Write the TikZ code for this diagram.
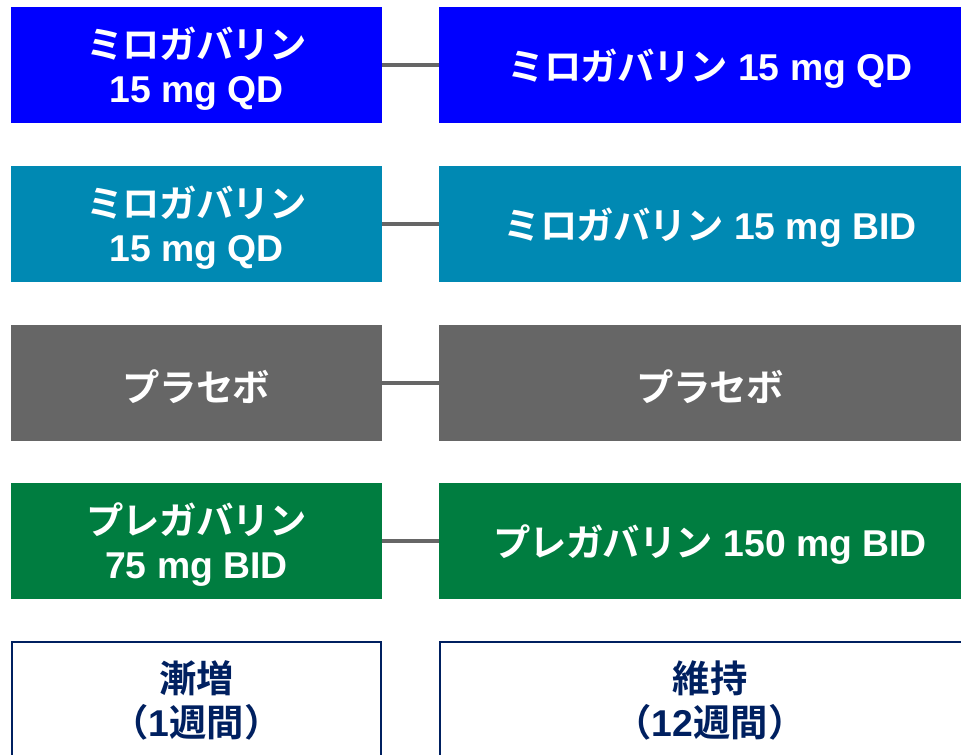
\documentclass[tikz,border=0pt]{standalone}
\usepackage{fontspec}
\setmainfont{Liberation Sans}
\newfontfamily\jp{Noto Sans CJK JP}[BoldFont=* Bold, LetterSpace=-2]
\newfontfamily\jpk{Noto Sans CJK JP}[BoldFont=* Bold]
\definecolor{cblue}{HTML}{0000FF}
\definecolor{cteal}{HTML}{0089B3}
\definecolor{cgray}{HTML}{666666}
\definecolor{cgreen}{HTML}{007D40}
\definecolor{cnavy}{HTML}{002060}
\tikzset{
  box/.style={rectangle, inner sep=0pt, minimum height=87pt},
  lbox/.style={box, minimum width=278.25pt},
  rbox/.style={box, minimum width=406.5pt},
  txt/.style={inner sep=0pt, align=center, text=white,
    font=\bfseries\fontsize{28pt}{33pt}\selectfont},
  pbox/.style={rectangle, inner sep=0pt, align=center, text=cnavy, draw=cnavy, line width=2pt,
    font=\bfseries\fontsize{28pt}{33pt}\selectfont, minimum height=87pt},
  conn/.style={draw=cgray, line width=3pt}
}
\begin{document}
\begin{tikzpicture}[x=0.75pt,y=-0.75pt]
\useasboundingbox (0,0) rectangle (961,754);
\clip (0,0) rectangle (961,754);
\node[lbox, fill=cblue] (l1) at (196.5,65) {};
\node[rbox, fill=cblue] (r1) at (710,65) {};
\node[lbox, fill=cteal] (l2) at (196.5,224) {};
\node[rbox, fill=cteal] (r2) at (710,224) {};
\node[lbox, fill=cgray] (l3) at (196.5,383) {};
\node[rbox, fill=cgray] (r3) at (710,383) {};
\node[lbox, fill=cgreen] (l4) at (196.5,541) {};
\node[rbox, fill=cgreen] (r4) at (710,541) {};
\node[txt] (tl1) at ([yshift=-2.5pt]l1.center) {{\jp ミロガバリン}\\15 mg QD};
\node[txt] (tr1) at ([yshift=-2.5pt]r1.center) {{\jp ミロガバリン} 15 mg QD};
\node[txt] (tl2) at ([yshift=-2.5pt]l2.center) {{\jp ミロガバリン}\\15 mg QD};
\node[txt] (tr2) at ([yshift=-2.5pt]r2.center) {{\jp ミロガバリン} 15 mg BID};
\node[txt] (tl3) at ([yshift=-2.5pt]l3.center) {{\jp プラセボ}};
\node[txt] (tr3) at ([yshift=-2.5pt]r3.center) {{\jp プラセボ}};
\node[txt] (tl4) at ([yshift=-2.5pt]l4.center) {{\jp プレガバリン}\\75 mg BID};
\node[txt] (tr4) at ([yshift=-2.5pt]r4.center) {{\jp プレガバリン} 150 mg BID};
\node[pbox, minimum width=276.75pt] (l5) at (196.5,700) {{\jpk 漸増}\\{\jpk （}1{\jpk 週間）}};
\node[pbox, minimum width=405pt] (r5) at (710,700) {{\jpk 維持}\\{\jpk （}12{\jpk 週間）}};
\draw[conn] (l1.east) -- (r1.west);
\draw[conn] (l2.east) -- (r2.west);
\draw[conn] (l3.east) -- (r3.west);
\draw[conn] (l4.east) -- (r4.west);
\end{tikzpicture}
\end{document}
